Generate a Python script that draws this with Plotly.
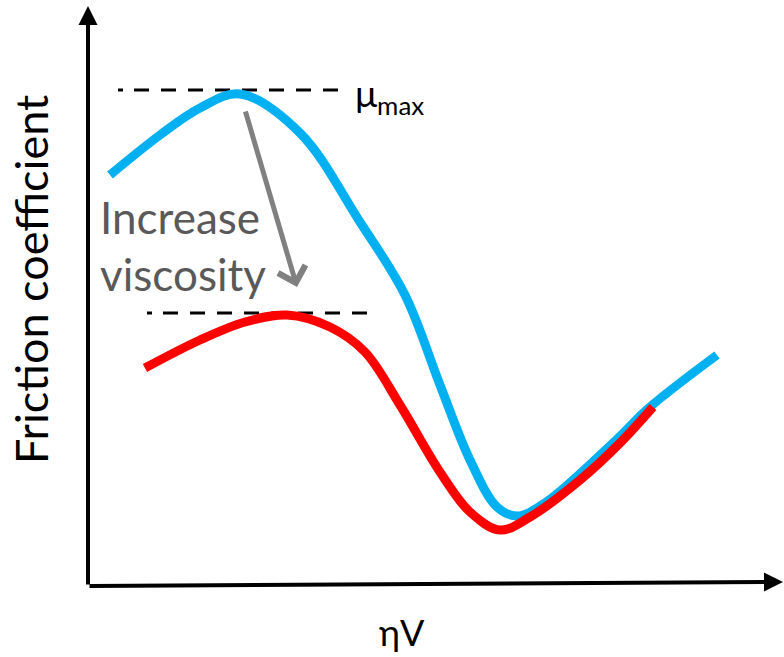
import plotly.graph_objects as go

# Data (x: ηV, arbitrary units; y: friction coefficient, arbitrary units)
blue_x = [22, 72, 112, 152, 212, 272, 317, 352, 382, 409, 429, 457, 525, 562, 629]
blue_y = [411, 451, 478, 492, 453, 364, 291, 201, 126, 79, 70, 83, 143, 179, 231]
red_x = [57, 112, 157, 199, 242, 277, 312, 352, 382, 412, 442, 492, 532, 565]
red_y = [218, 246, 264, 271, 259, 234, 181, 114, 74, 56, 69, 106, 143, 179]
mu_max_blue = 496
mu_max_red = 273
dash_blue_x = [30, 252]
dash_red_x = [59, 279]
arrow_start = (157, 476)
arrow_end = (209, 299)
x_axis_end = (695, 4)
y_axis_end = (0, 580)

X_RANGE = [-88, 696]
Y_RANGE = [-71, 586]

DASH = "5px,11px," + ",".join(["15px,12px"] * 10)

fig = go.Figure()
fig.add_trace(go.Scatter(x=dash_blue_x, y=[mu_max_blue] * 2, mode="lines",
                         line=dict(color="black", width=3, dash=DASH), hoverinfo="skip"))
fig.add_trace(go.Scatter(x=dash_red_x, y=[mu_max_red] * 2, mode="lines",
                         line=dict(color="black", width=3, dash=DASH), hoverinfo="skip"))
fig.add_trace(go.Scatter(x=blue_x, y=blue_y, mode="lines",
                         line=dict(color="#00B0F0", width=9, shape="spline", smoothing=1.0)))
fig.add_trace(go.Scatter(x=red_x, y=red_y, mode="lines",
                         line=dict(color="#FF0000", width=9, shape="spline", smoothing=1.0)))

font_family = "Lato, Open Sans, sans-serif"

anns = []
# y axis arrow
anns.append(dict(x=y_axis_end[0], y=y_axis_end[1], ax=0, ay=0, xref="x", yref="y", axref="x", ayref="y",
                 showarrow=True, arrowhead=2, arrowsize=0.95, arrowwidth=4, arrowcolor="black", text="", standoff=0))
# x axis arrow
anns.append(dict(x=x_axis_end[0], y=x_axis_end[1], ax=0, ay=0, xref="x", yref="y", axref="x", ayref="y",
                 showarrow=True, arrowhead=2, arrowsize=0.95, arrowwidth=4, arrowcolor="black", text="", standoff=0))
# gray arrow
anns.append(dict(x=arrow_end[0], y=arrow_end[1], ax=arrow_start[0], ay=arrow_start[1], xref="x", yref="y",
                 axref="x", ayref="y", showarrow=True, arrowhead=4, arrowsize=1.1, arrowwidth=5,
                 arrowcolor="#808080", text="", standoff=0))
# texts
anns.append(dict(x=265, y=491, xref="x", yref="y", text="μ<sub>max</sub>", showarrow=False,
                 xanchor="left", yanchor="middle", font=dict(family=font_family, size=37, color="black")))
anns.append(dict(x=95, y=341, xref="x", yref="y", text="Increase<br>viscosity", showarrow=False,
                 xanchor="center", yanchor="middle", align="left",
                 font=dict(family=font_family, size=44, color="#595959")))
anns.append(dict(x=-57, y=306, xref="x", yref="y", text="Friction coefficient", showarrow=False, textangle=-90,
                 xanchor="center", yanchor="middle", font=dict(family=font_family, size=45, color="black")))
anns.append(dict(x=314, y=-46, xref="x", yref="y", text="ηV", showarrow=False,
                 xanchor="center", yanchor="middle", font=dict(family=font_family, size=36, color="black")))

fig.update_layout(
    width=784, height=657, margin=dict(l=0, r=0, t=0, b=0),
    paper_bgcolor="white", plot_bgcolor="white", showlegend=False,
    xaxis=dict(range=X_RANGE, visible=False, fixedrange=True),
    yaxis=dict(range=Y_RANGE, visible=False, fixedrange=True),
    annotations=anns,
)
fig.write_html("out.html", config={"displayModeBar": False},
               post_script="document.body.style.margin='0px';document.body.style.overflow='hidden';")
